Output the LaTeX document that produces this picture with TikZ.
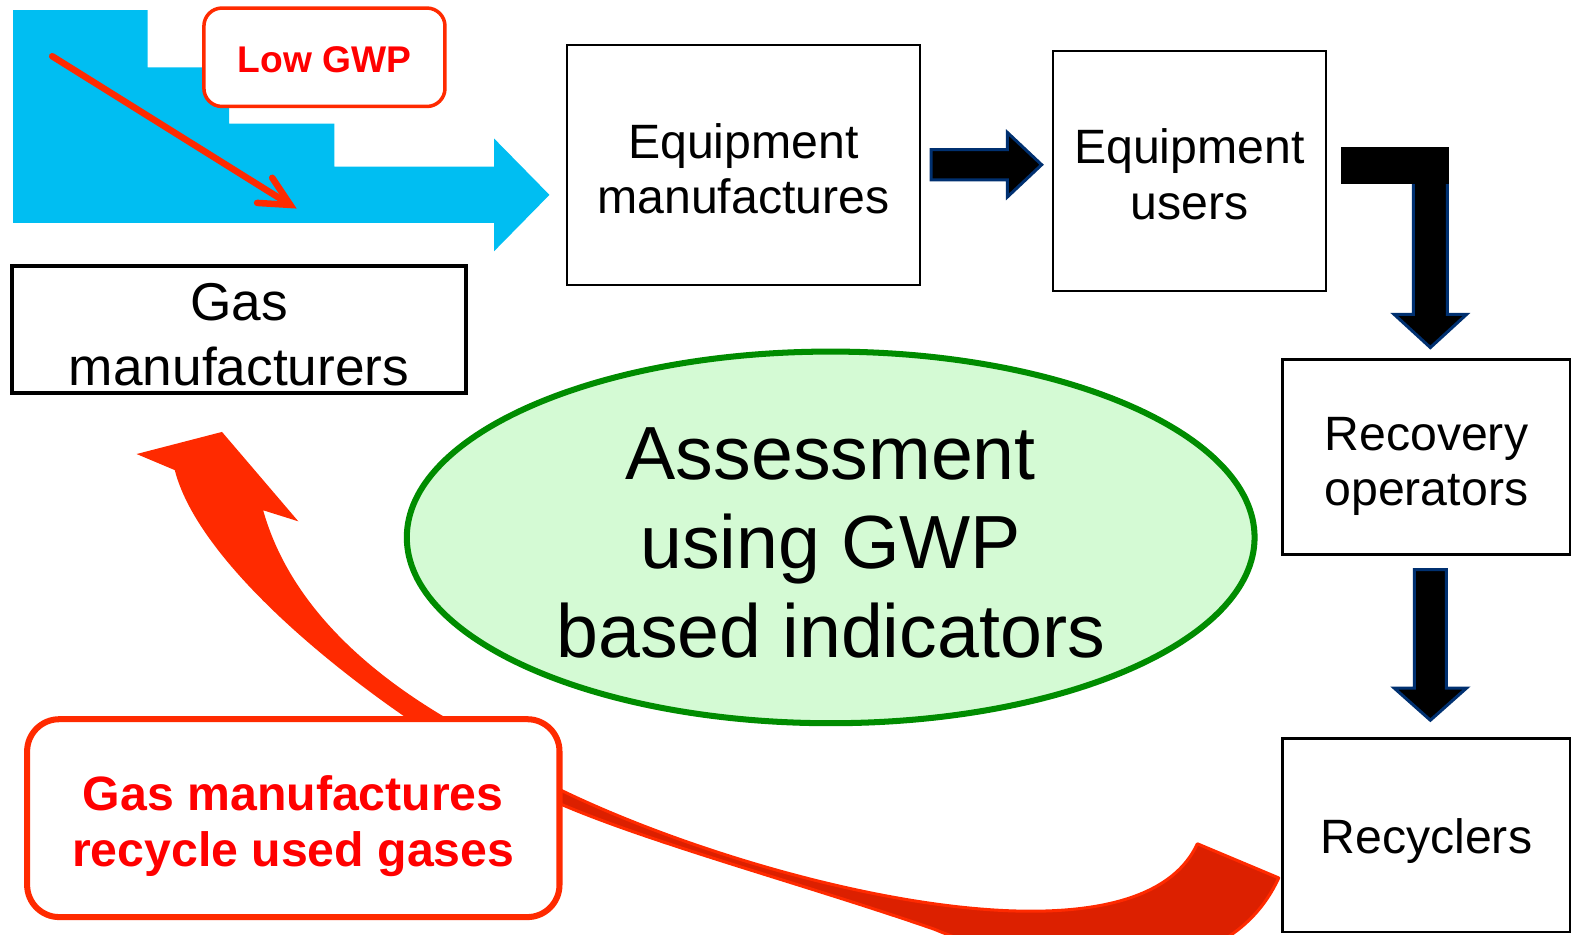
\documentclass[tikz,border=0pt]{standalone}
\usepackage{fontspec}
\setmainfont{Liberation Sans}
\usetikzlibrary{shapes.geometric}
\definecolor{cyanblue}{RGB}{0,190,242}
\definecolor{redline}{RGB}{255,42,0}
\definecolor{redtext}{RGB}{255,0,0}
\definecolor{darkred}{RGB}{220,32,0}
\definecolor{navy}{RGB}{0,48,112}
\definecolor{ellgreen}{RGB}{0,140,0}
\definecolor{ellfill}{RGB}{212,250,212}
\begin{document}
\begin{tikzpicture}[x=1pt,y=-1pt,
  box/.style={draw=black, line width=2pt, fill=white, inner sep=0pt},
  lbl/.style={align=center, inner sep=0pt},
  txtbig/.style={font=\fontsize{48}{55}\selectfont},
  blockarrow/.style={fill=black, draw=navy, line width=3pt, line join=miter},
  redbox/.style={draw=redline, fill=white, inner sep=0pt},
  redlbl/.style={align=center, inner sep=0pt, text=redtext},
]
\useasboundingbox (0,0) rectangle (1568,930);

% blue staircase arrow
\fill[cyanblue] (13,10) -- (147,10) -- (147,67) -- (228,67) -- (228,123) -- (333,123)
  -- (333,166) -- (492,166) -- (492,138) -- (547,194) -- (492,250) -- (492,222)
  -- (13,222) -- cycle;

% Low GWP box
\node[redbox, line width=3.5pt, rounded corners=18pt, minimum width=240pt, minimum height=98pt] (low) at (323,57) {};
\node[redlbl, font=\fontsize{37}{40}\selectfont\bfseries] (low-t) at (323,59) {Low GWP};

% red thin arrow
\coordinate (ra1) at (52,56);
\coordinate (ra2) at (289,204);
\draw[redline, line width=6.5pt, line cap=round] (ra1) -- (ra2);
\draw[redline, line width=6.5pt, line cap=round, line join=miter] (256,202) -- (ra2) -- (271,177);

% boxes
\node[box, minimum width=352pt, minimum height=239pt] (em) at (740,164.5) {};
\node[lbl, txtbig] (em-t) at (740,168) {Equipment\\manufactures};
\node[box, minimum width=272pt, minimum height=239pt] (eu) at (1184,170.5) {};
\node[lbl, txtbig] (eu-t) at (1184,173.5) {Equipment\\users};
\node[box, line width=4pt, minimum width=452pt, minimum height=126pt] (gm) at (238,328) {};
\node[lbl, font=\fontsize{53}{65}\selectfont] (gm-t) at (238,333) {Gas\\manufacturers};
\node[box, line width=2.5pt, minimum width=286pt, minimum height=194pt] (ro) at (1420,455) {};
\node[lbl, txtbig] (ro-t) at (1420,464) {Recovery\\operators};
\node[box, line width=2.5pt, minimum width=286pt, minimum height=193pt] (rc) at (1420,831.5) {};
\node[lbl, txtbig] (rc-t) at (1420,837.5) {Recyclers};

% ellipse
\node[ellipse, draw=ellgreen, fill=ellfill, line width=6pt, minimum width=844pt, minimum height=370pt,
  inner sep=0pt] (as) at (827,535) {};
\node[lbl, font=\fontsize{75}{89}\selectfont] (as-t) at (827,540.5) {Assessment\\using GWP\\based indicators};

% black block arrows
\draw[blockarrow] (927,149) -- (1003,149) -- (1003,132) -- (1037,164) -- (1003,196) -- (1003,179) -- (927,179) -- cycle;
\draw[blockarrow] (1407,170) -- (1441,170) -- (1441,313) -- (1460,313) -- (1424,346) -- (1388,313) -- (1407,313) -- cycle;
\fill[black] (1335,146) rectangle (1443,183);
\draw[blockarrow] (1408,567) -- (1440,567) -- (1440,685) -- (1460,685) -- (1424,717) -- (1388,685) -- (1408,685) -- cycle;

% red curved arrow up to gas manufacturers
\fill[redline] (408,717) .. controls (310,650) and (195,550) .. (174,468) -- (136,452) -- (221,430)
  -- (297,519) -- (262,508) .. controls (285,590) and (350,660) .. (448,717) -- cycle;

% red curved band from recyclers
\begin{scope}
\clip (0,0) rectangle (1568,930);
\filldraw[fill=darkred, draw=redline, line width=3pt, line join=round]
  (557,786) .. controls (750,880) and (1130,975) .. (1192,840) -- (1273,874)
  .. controls (1220,990) and (1050,975) .. (930,925)
  .. controls (800,880) and (650,840) .. (557,800) -- cycle;
\end{scope}

% red text box
\node[redbox, line width=6pt, rounded corners=32pt, minimum width=530pt, minimum height=197pt] (rb) at (292,814.5) {};
\node[redlbl, font=\fontsize{48}{56}\selectfont\bfseries] (rb-t) at (292,822.5) {Gas manufactures\\recycle used gases};
\end{tikzpicture}
\end{document}
